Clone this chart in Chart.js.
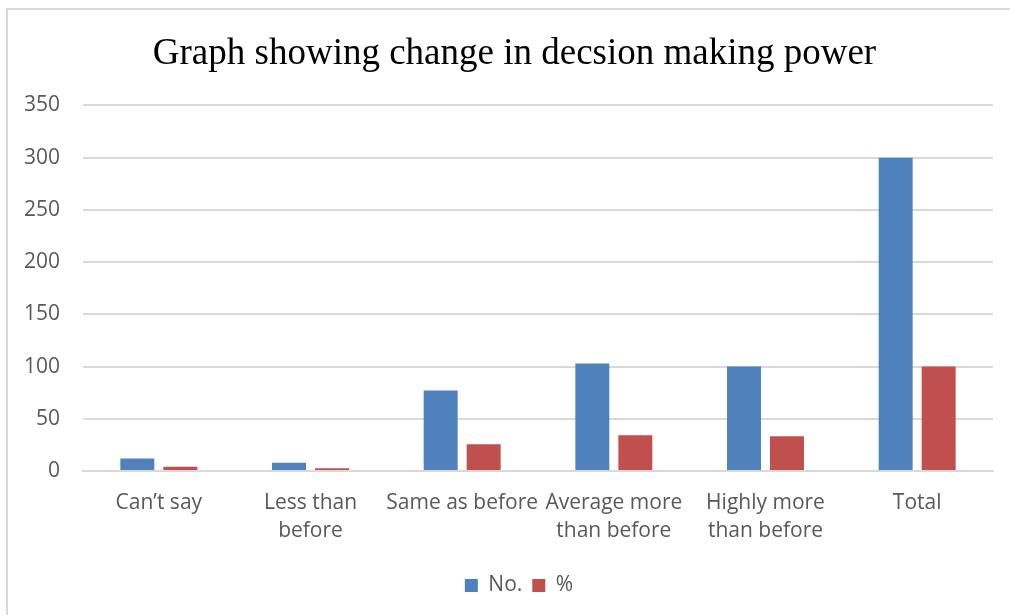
<!DOCTYPE html>
<html>
<head>
<meta charset="utf-8">
<script src="https://cdn.jsdelivr.net/npm/chart.js@4"></script>
<style>
  html, body { margin: 0; background: #fff; overflow: hidden; width: 1010px; height: 615px; }
  #frame { position: absolute; left: 6px; top: 8px; width: 1100px; height: 700px; border: 2px solid #d9d9d9; }
  #wrap { position: absolute; left: 0; top: 0; width: 1010px; height: 615px; }
</style>
</head>
<body>
<div id="frame"></div>
<div id="wrap"><canvas id="myChart"></canvas></div>
<script>
let categories = ["Can\u2019t say", ["Less than", "before"], "Same as before", ["Average more", "than before"], ["Highly more", "than before"], "Total"];
let numbers = [12, 8, 77, 103, 100, 300];
let percents = [4, 2.67, 25.67, 34.33, 33.33, 100];
let yTicks = [0, 50, 100, 150, 200, 250, 300, 350];

let textFont = { family: "'Open Sans', 'Liberation Sans', sans-serif", size: 21 };

// the title and legend sit centred on the inner frame, not on the whole canvas
let shiftBlocks = {
    id: 'shiftBlocks',
    afterLayout: function (chart) {
        chart.titleBlock.left = 36;
        chart.legend.left = 45;
    }
};

let ctx = document.getElementById("myChart").getContext('2d');

let chart = new Chart(ctx, {
    type: 'bar',
    data: {
        labels: categories,
        datasets: [{
            label: "No.",
            data: numbers,
            backgroundColor: '#4F81BD',
            categoryPercentage: 0.567,
            barPercentage: 0.79
        }, {
            label: "%",
            data: percents,
            backgroundColor: '#C0504D',
            categoryPercentage: 0.567,
            barPercentage: 0.79
        }]
    },
    plugins: [shiftBlocks],
    options: {
        responsive: true,
        maintainAspectRatio: false,
        animation: false,
        layout: { padding: { left: 0, right: 17, top: 0, bottom: 9 } },
        plugins: {
            title: {
                display: true,
                text: "Graph showing change in decsion making power",
                color: '#000',
                font: { family: "'Liberation Serif', 'Times New Roman', serif", size: 37, weight: 'normal' },
                padding: { top: 32, bottom: 29 }
            },
            legend: {
                position: 'bottom',
                labels: {
                    color: '#595959',
                    font: textFont,
                    boxWidth: 13,
                    boxHeight: 13,
                    padding: 10
                }
            },
            tooltip: { enabled: false }
        },
        scales: {
            x: {
                grid: { display: false },
                border: { color: '#d9d9d9', width: 2 },
                ticks: { color: '#595959', font: Object.assign({ lineHeight: 1.33 }, textFont), padding: 10, maxRotation: 0, autoSkip: false },
                afterFit: function (scale) { scale.height = 94; }
            },
            y: {
                min: 0,
                max: 350,
                afterBuildTicks: function (scale) { scale.ticks = yTicks.map(v => ({ value: v })); },
                grid: { color: '#d9d9d9', lineWidth: 2, drawTicks: false },
                border: { display: false },
                ticks: { color: '#595959', font: textFont, padding: 23 },
                afterFit: function (scale) { scale.width = 83; }
            }
        }
    }
});
</script>
</body>
</html>
